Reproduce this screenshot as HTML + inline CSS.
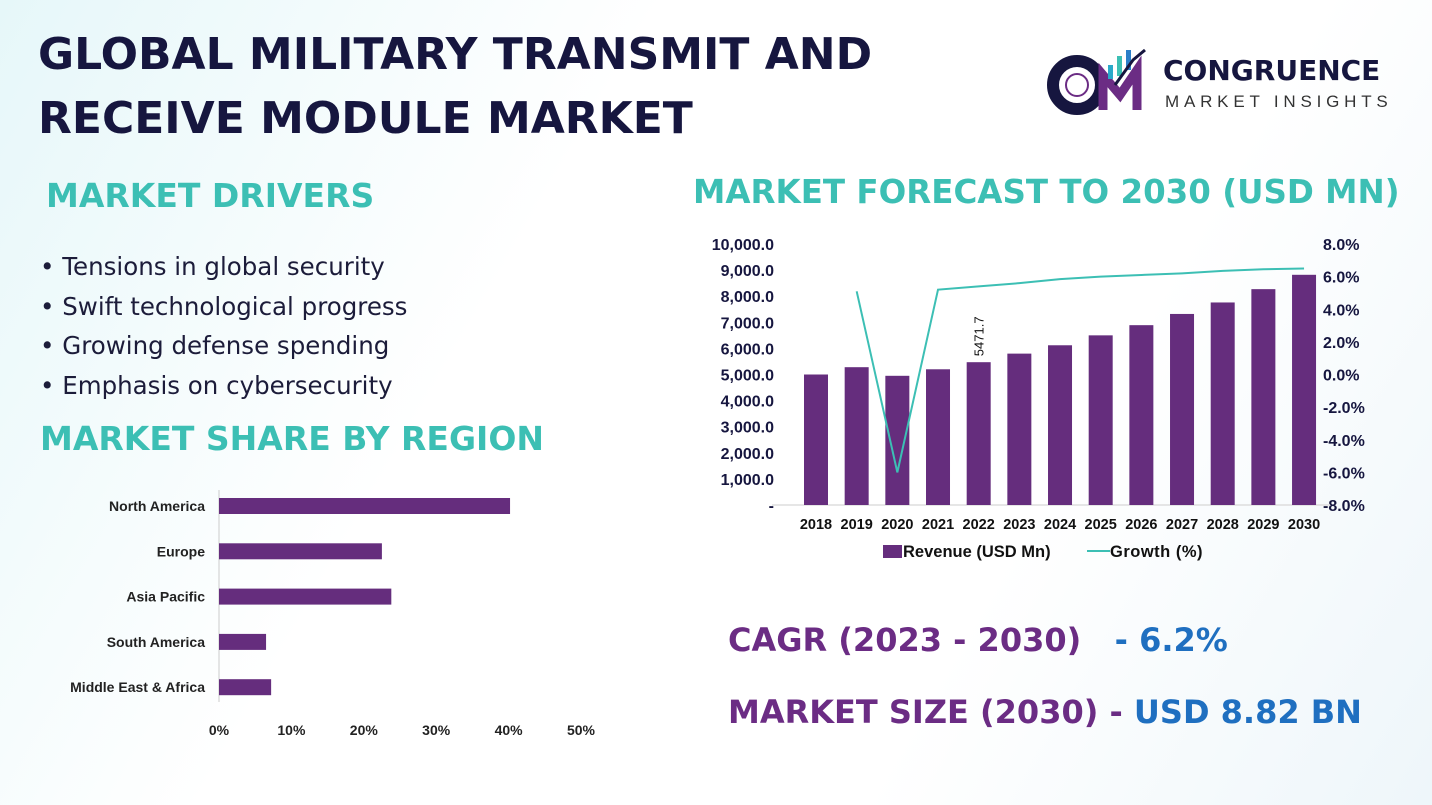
<!DOCTYPE html>
<html><head><meta charset="utf-8"><style>
body{margin:0;width:1432px;height:805px;overflow:hidden;font-family:"Liberation Sans",sans-serif;background:linear-gradient(120deg,#e6f7f9 0%,#ffffff 35%,#ffffff 70%,#eef6fa 100%);position:relative}
.t{position:absolute;margin:0;white-space:nowrap}
h1{font-family:"DejaVu Sans","Liberation Sans",sans-serif;font-weight:bold;font-size:44px;line-height:64px;color:#16163f;left:38px;top:23px}
.sec{font-family:"DejaVu Sans","Liberation Sans",sans-serif;font-weight:bold;color:#3cbfb4;font-size:33px}
ul{list-style:none;padding:0}
li{font-size:24.5px;color:#1c1c3a;height:39.5px;font-family:"DejaVu Sans","Liberation Sans",sans-serif}
.big{font-family:"DejaVu Sans","Liberation Sans",sans-serif;font-weight:bold;font-size:32px;color:#6b2c84}
</style></head><body>
<h1 class="t">GLOBAL MILITARY TRANSMIT AND<br>RECEIVE MODULE MARKET</h1>
<div class="t" style="left:1045px;top:40px;width:350px;height:80px">
<svg width="110" height="80" style="position:absolute;left:0;top:0"><circle cx="32" cy="45" r="24" fill="none" stroke="#16163f" stroke-width="12"/><circle cx="32" cy="45" r="11" fill="none" stroke="#6b2c84" stroke-width="2"/><path d="M58 70 L58 35 L75 55 L92 30 L92 70" fill="none" stroke="#6b2c84" stroke-width="9"/><rect x="63" y="25" width="5" height="14" fill="#2aa9c9"/><rect x="72" y="16" width="5" height="20" fill="#3cbfb4"/><rect x="81" y="10" width="5" height="20" fill="#2a7fc9"/><path d="M70 45 L88 20 L100 10" stroke="#16163f" stroke-width="3" fill="none"/></svg>
<div class="t" style="left:118px;top:14px;font-family:'DejaVu Sans',sans-serif;font-weight:bold;font-size:28px;color:#16163f">CONGRUENCE</div>
<div class="t" style="left:120px;top:52px;font-size:17px;letter-spacing:4.8px;color:#333">MARKET INSIGHTS</div>
</div>
<div class="t sec" style="left:46px;top:176px">MARKET DRIVERS</div>
<ul class="t" style="left:40px;top:252px;margin:0">
<li>• Tensions in global security</li>
<li>• Swift technological progress</li>
<li>• Growing defense spending</li>
<li>• Emphasis on cybersecurity</li>
</ul>
<div class="t sec" style="left:40px;top:419px">MARKET SHARE BY REGION</div>
<div class="t sec" style="left:693px;top:173px;font-size:32.5px">MARKET FORECAST TO 2030 (USD MN)</div>
<div class="t big" style="left:728px;top:621px">CAGR (2023 - 2030)&nbsp;&nbsp; <span style="color:#1f6fc0">- 6.2%</span></div>
<div class="t big" style="left:728px;top:693px">MARKET SIZE (2030) - <span style="color:#1f6fc0">USD 8.82 BN</span></div>
<svg id="region" class="t" style="left:0;top:0" width="700" height="805"></svg>
<svg id="fc" class="t" style="left:0;top:0" width="1432" height="805"></svg>
<script>
const regions=["North America","Europe","Asia Pacific","South America","Middle East & Africa"];
const shares=[40.2,22.5,23.8,6.5,7.2];
const shareTicks=[0,10,20,30,40,50];
const years=["2018","2019","2020","2021","2022","2023","2024","2025","2026","2027","2028","2029","2030"];
const revenue=[5000,5280,4950,5200,5471.7,5800,6120,6500,6890,7320,7760,8270,8820];
const growth=[null,5.1,-6.0,5.2,5.4,5.6,5.85,6.0,6.1,6.2,6.35,6.45,6.5];
const leftTicks=[0,1000,2000,3000,4000,5000,6000,7000,8000,9000,10000];
const rightTicks=[-8,-6,-4,-2,0,2,4,6,8];
const NS="http://www.w3.org/2000/svg";
function mk(p,tag,a,txt){const e=document.createElementNS(NS,tag);for(const k in a)e.setAttribute(k,a[k]);if(txt!=null)e.textContent=txt;p.appendChild(e);return e;}
const R=document.getElementById('region');
const sx=v=>219+v*7.24, ry=i=>506+i*45.3;
mk(R,'line',{x1:219,y1:490,x2:219,y2:702,stroke:'#ccc'});
regions.forEach((r,i)=>{
 let t=mk(R,'text',{x:205,y:ry(i)+5,'text-anchor':'end','font-size':14,'font-weight':'bold',fill:'#222'},r);
 
 let b=mk(R,'rect',{x:sx(0),y:ry(i)-8,width:sx(shares[i])-sx(0),height:16,fill:'#652d7d'});
 
});
shareTicks.forEach(v=>{let t=mk(R,'text',{x:sx(v),y:735,'text-anchor':'middle','font-size':14,'font-weight':'bold',fill:'#222'},v+'%');
 });
const F=document.getElementById('fc');
const yL=v=>505-v*0.0261, yR=v=>505-(v+8)*261/16, bx=i=>816+i*40.67;
leftTicks.forEach(v=>{let t=mk(F,'text',{x:774,y:yL(v)+6,'text-anchor':'end','font-size':16,'font-weight':'bold',fill:'#16163f'},v===0?'-':v.toLocaleString('en-US',{minimumFractionDigits:1}));
 });
rightTicks.forEach(v=>{let t=mk(F,'text',{x:1323,y:yR(v)+6,'font-size':16,'font-weight':'bold',fill:'#16163f'},v.toFixed(1)+'%');
 });
mk(F,'line',{x1:772,y1:505,x2:1330,y2:505,stroke:'#ddd','stroke-width':1.5});
years.forEach((y,i)=>{
 let b=mk(F,'rect',{x:bx(i)-12,y:yL(revenue[i]),width:24,height:505-yL(revenue[i]),fill:'#652d7d'});
 
 let t=mk(F,'text',{x:bx(i),y:529,'text-anchor':'middle','font-size':14.5,'font-weight':'bold',fill:'#111'},y);
 
});
let lbl=mk(F,'text',{x:0,y:0,'font-size':13,fill:'#111',transform:`translate(${bx(4)+5},${yL(revenue[4])-6}) rotate(-90)`},String(revenue[4]));

let pts=[];growth.forEach((g,i)=>{if(g!=null)pts.push(bx(i)+','+yR(g));});
let pl=mk(F,'polyline',{points:pts.join(' '),fill:'none',stroke:'#3cbfb4','stroke-width':2});

let lg=mk(F,'g',{});
mk(lg,'rect',{x:883,y:545,width:19,height:13,fill:'#652d7d'});
mk(lg,'text',{x:903,y:557,'font-size':16.5,'font-weight':'bold',fill:'#111'},'Revenue (USD Mn)');
mk(lg,'line',{x1:1087,y1:551,x2:1110,y2:551,stroke:'#3cbfb4','stroke-width':2});
mk(lg,'text',{x:1110,y:557,'font-size':16.5,'font-weight':'bold',fill:'#111','letter-spacing':0.5},'Growth (%)');
</script>
</body></html>
